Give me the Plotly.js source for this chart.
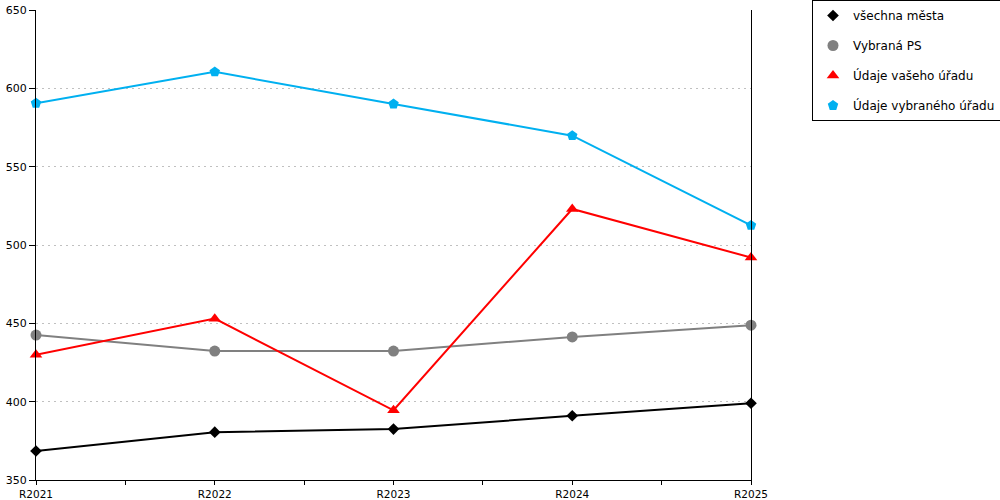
<!DOCTYPE html>
<html>
<head>
<meta charset="utf-8">
<script src="https://cdn.plot.ly/plotly-3.0.1.min.js"></script>
<style>html,body{margin:0;padding:0;background:#fff;}#chart{width:1000px;height:500px;}</style>
</head>
<body>
<div id="chart"></div>
<script>
const categories = ["R2021", "R2022", "R2023", "R2024", "R2025"];
const vsechnaMesta = [368.5, 380.5, 382.5, 391, 399];
const vybranaPS = [442.5, 432.3, 432.3, 441.3, 448.8];
const udajeVasehoUradu = [430, 453, 394.5, 523, 492];
const udajeVybranehoUradu = [590.5, 610.5, 590, 569.8, 512.5];
const seriesNames = ["všechna města", "Vybraná PS", "Údaje vašeho úřadu", "Údaje vybraného úřadu"];
const yTicks = [350, 400, 450, 500, 550, 600, 650];

const xIdx = categories.map((c, i) => i);
const minorX = categories.slice(1).map((c, i) => i + 0.5);

const styles = [
  {color: "#000000", symbol: "diamond", size: 9},
  {color: "#808080", symbol: "circle", size: 11},
  {color: "#ff0000", symbol: "triangle-up", size: 11},
  {color: "#00b0f0", symbol: "pentagon", size: 11}
];
const allSeries = [vsechnaMesta, vybranaPS, udajeVasehoUradu, udajeVybranehoUradu];

const traces = [];
allSeries.forEach((vals, k) => {
  traces.push({
    x: xIdx, y: vals, type: "scatter", mode: "lines",
    line: {color: styles[k].color, width: 2},
    name: seriesNames[k], legendgroup: "g" + k, showlegend: false,
    cliponaxis: false, hoverinfo: "skip"
  });
  traces.push({
    x: xIdx, y: vals, type: "scatter", mode: "markers",
    marker: {color: styles[k].color, symbol: styles[k].symbol, size: styles[k].size},
    name: seriesNames[k], legendgroup: "g" + k, showlegend: true,
    cliponaxis: false
  });
});

const FONT = "DejaVu Sans, Verdana, sans-serif";
const layout = {
  width: 1000, height: 500,
  margin: {l: 36, r: 249, t: 10, b: 20, pad: 0, autoexpand: false},
  paper_bgcolor: "#ffffff", plot_bgcolor: "#ffffff",
  font: {family: FONT, size: 11, color: "#000000"},
  xaxis: {
    range: [0, 4], tickmode: "array", tickvals: xIdx, ticktext: categories,
    ticks: "outside", ticklen: 4, tickcolor: "#000000", tickwidth: 1,
    showline: true, linecolor: "#000000", linewidth: 1,
    showgrid: false, zeroline: false, fixedrange: true, automargin: false,
    tickfont: {family: FONT, size: 10.5, color: "#000000"},
    minor: {tickmode: "array", tickvals: minorX, ticks: "outside", ticklen: 4, tickcolor: "#000000", showgrid: false}
  },
  yaxis: {
    range: [350, 650], tickmode: "array", tickvals: yTicks,
    ticks: "outside", ticklen: 6, tickcolor: "#000000", tickwidth: 1,
    showline: true, linecolor: "#000000", linewidth: 1, mirror: true,
    showgrid: true, gridcolor: "#c0c0c0", gridwidth: 1, griddash: "2px,4px",
    zeroline: false, fixedrange: true, automargin: false,
    tickfont: {family: FONT, size: 11, color: "#000000"}
  },
  legend: {
    x: (812 - 36) / 715, y: (480 - 0) / 470, xanchor: "left", yanchor: "top",
    bordercolor: "#000000", borderwidth: 1, bgcolor: "#ffffff",
    font: {family: FONT, size: 12, color: "#000000"},
    tracegroupgap: 11, traceorder: "grouped"
  },
  showlegend: true
};

Plotly.newPlot("chart", traces, layout, {displayModeBar: false, staticPlot: true});
</script>
</body>
</html>
